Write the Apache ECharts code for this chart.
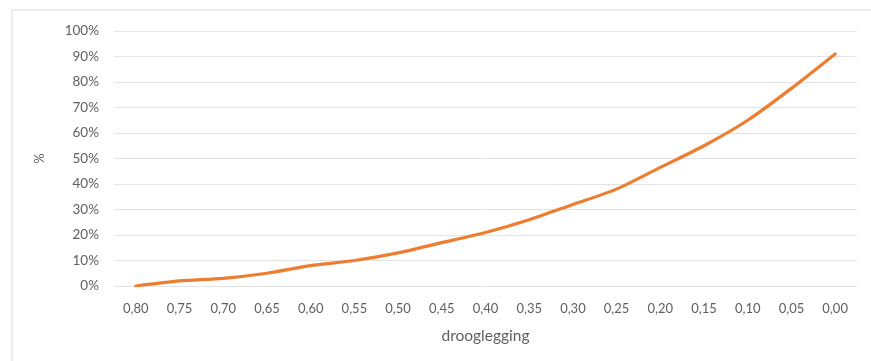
<!DOCTYPE html>
<html>
<head>
<meta charset="utf-8">
<script src="https://cdn.jsdelivr.net/npm/echarts@6/dist/echarts.min.js"></script>
<style>
  html, body { margin: 0; padding: 0; background: #ffffff; }
  #chart { width: 871px; height: 361px; }
</style>
</head>
<body>
<div id="chart"></div>
<script>
// Drooglegging categories (x axis, descending)
const categories = ['0,80','0,75','0,70','0,65','0,60','0,55','0,50','0,45','0,40','0,35','0,30','0,25','0,20','0,15','0,10','0,05','0,00'];
// Percentage values per category
const values = [0, 2, 3, 5, 8, 10, 13, 17, 21, 26, 32, 38, 46.5, 55, 65, 77.5, 91];
// Y tick range
const yMin = 0, yMax = 100, yStep = 10;

const labelColor = '#5f5f5f';
const fontFamily = 'Lato, "Liberation Sans", sans-serif';

const chart = echarts.init(document.getElementById('chart'), null, { renderer: 'canvas' });
chart.setOption({
  animation: false,
  backgroundColor: '#ffffff',
  graphic: [{
    type: 'rect',
    shape: { x: 12, y: 10, width: 870, height: 370 },
    style: { fill: 'none', stroke: '#d9d9d9', lineWidth: 1 },
    silent: true
  }],
  grid: { left: 114, right: 14, top: 31, bottom: 75, containLabel: false },
  xAxis: {
    type: 'category',
    data: categories,
    boundaryGap: true,
    name: 'drooglegging',
    nameLocation: 'middle',
    nameGap: 42,
    nameTextStyle: { color: labelColor, fontSize: 15.5, fontFamily },
    axisLine: { show: false },
    axisTick: { show: false },
    axisLabel: { color: labelColor, fontSize: 13, fontFamily, margin: 16 }
  },
  yAxis: {
    type: 'value',
    min: yMin, max: yMax, interval: yStep,
    name: '%',
    nameLocation: 'middle',
    nameGap: 68,
    nameRotate: 90,
    nameTextStyle: { color: labelColor, fontSize: 13, fontFamily },
    axisLine: { show: false },
    axisTick: { show: false },
    axisLabel: { color: labelColor, fontSize: 13.5, fontFamily, margin: 15, formatter: v => v + '%' },
    splitLine: { lineStyle: { color: '#e3e3e3', width: 1 } }
  },
  series: [{
    type: 'line',
    data: values,
    smooth: 0.25,
    symbol: 'none',
    lineStyle: { color: '#ED7D31', width: 3.2, cap: 'round' }
  }]
});
</script>
</body>
</html>
